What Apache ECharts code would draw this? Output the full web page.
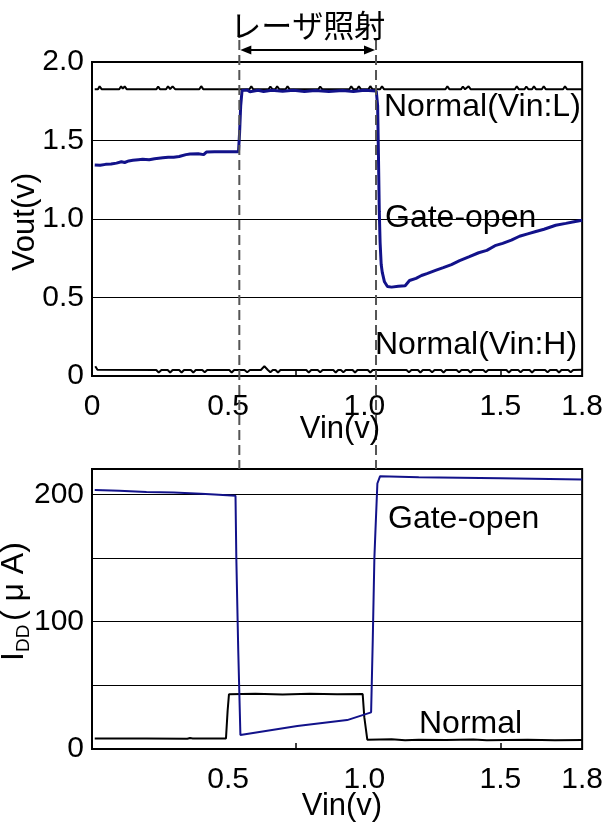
<!DOCTYPE html>
<html><head><meta charset="utf-8">
<script src="https://cdn.jsdelivr.net/npm/echarts@6/dist/echarts.min.js"></script>
<style>html,body{margin:0;padding:0;background:#fff}#c{width:606px;height:822px}</style>
</head><body><div id="c"></div>
<script>
// ---------- data ----------
const vinLabelsTop = [0, 0.5, 1.0, 1.5, 1.8];
const vinLabelsBottom = [0.5, 1.0, 1.5, 1.8];
const vinMinorTicks = [0.75, 1.5];
const iddLabelValues = [0, 100, 200];
const laserVin = [0.541, 1.043];

const normalLowVout = [[0.01,1.826],[0.022,1.826],[0.028,1.845],[0.036,1.826],[0.1,1.826],[0.107,1.845],[0.113,1.83],[0.12,1.845],[0.128,1.826],[0.236,1.826],[0.243,1.844],[0.25,1.826],[0.272,1.826],[0.279,1.845],[0.287,1.828],[0.296,1.845],[0.306,1.826],[0.394,1.826],[0.401,1.846],[0.409,1.826],[0.578,1.826],[0.585,1.845],[0.592,1.826],[0.648,1.826],[0.655,1.844],[0.663,1.826],[0.673,1.826],[0.68,1.845],[0.688,1.826],[0.711,1.826],[0.718,1.845],[0.726,1.826],[0.831,1.826],[0.838,1.844],[0.846,1.826],[0.945,1.826],[0.952,1.845],[0.96,1.826],[0.973,1.826],[0.98,1.845],[0.988,1.826],[1.015,1.826],[1.022,1.846],[1.03,1.826],[1.058,1.826],[1.065,1.845],[1.073,1.826],[1.298,1.826],[1.305,1.845],[1.313,1.826],[1.355,1.826],[1.362,1.844],[1.37,1.826],[1.376,1.826],[1.383,1.845],[1.391,1.826],[1.553,1.826],[1.56,1.845],[1.568,1.826],[1.588,1.826],[1.595,1.844],[1.603,1.826],[1.616,1.826],[1.623,1.845],[1.631,1.826],[1.652,1.826],[1.659,1.845],[1.667,1.826],[1.73,1.826],[1.737,1.845],[1.745,1.826],[1.8,1.826]];

const normalHighVout = [[0.012,0.062],[0.02,0.04],[0.236,0.038],[0.245,0.022],[0.255,0.038],[0.278,0.038],[0.287,0.022],[0.296,0.038],[0.32,0.038],[0.329,0.022],[0.338,0.038],[0.363,0.038],[0.372,0.022],[0.381,0.038],[0.405,0.038],[0.414,0.024],[0.423,0.038],[0.504,0.038],[0.513,0.022],[0.522,0.038],[0.56,0.038],[0.57,0.024],[0.58,0.038],[0.62,0.038],[0.633,0.062],[0.646,0.038],[0.655,0.024],[0.664,0.038],[0.674,0.038],[0.683,0.022],[0.692,0.038],[0.787,0.038],[0.796,0.022],[0.805,0.038],[0.829,0.038],[0.838,0.024],[0.847,0.038],[0.886,0.038],[0.895,0.022],[0.904,0.038],[0.914,0.038],[0.923,0.024],[0.932,0.038],[0.957,0.038],[0.966,0.022],[0.975,0.038],[1.013,0.038],[1.022,0.022],[1.031,0.038],[1.155,0.038],[1.164,0.024],[1.173,0.038],[1.197,0.038],[1.206,0.022],[1.215,0.038],[1.24,0.038],[1.249,0.024],[1.258,0.038],[1.282,0.038],[1.291,0.022],[1.3,0.038],[1.339,0.038],[1.348,0.024],[1.357,0.038],[1.381,0.038],[1.39,0.022],[1.399,0.038],[1.437,0.038],[1.446,0.024],[1.455,0.038],[1.522,0.038],[1.531,0.022],[1.54,0.038],[1.565,0.038],[1.574,0.024],[1.583,0.038],[1.607,0.038],[1.616,0.022],[1.625,0.038],[1.664,0.038],[1.673,0.024],[1.682,0.038],[1.706,0.038],[1.715,0.022],[1.724,0.038],[1.749,0.038],[1.758,0.024],[1.767,0.038],[1.8,0.04]];

const gateOpenVout = [[0.01,1.344],[0.03,1.342],[0.05,1.348],[0.07,1.35],[0.09,1.356],[0.108,1.365],[0.12,1.36],[0.135,1.37],[0.14,1.358],[0.15,1.374],[0.17,1.378],[0.186,1.38],[0.21,1.378],[0.23,1.384],[0.26,1.39],[0.28,1.394],[0.3,1.393],[0.32,1.398],[0.345,1.41],[0.36,1.414],[0.39,1.416],[0.41,1.41],[0.42,1.426],[0.45,1.428],[0.49,1.429],[0.538,1.429],[0.542,1.55],[0.546,1.72],[0.551,1.818],[0.57,1.822],[0.58,1.81],[0.61,1.82],[0.63,1.812],[0.66,1.82],[0.7,1.814],[0.74,1.82],[0.78,1.812],[0.82,1.818],[0.87,1.812],[0.92,1.818],[0.96,1.812],[1.0,1.82],[1.044,1.815],[1.049,1.72],[1.052,1.4],[1.055,1.05],[1.058,0.85],[1.062,0.71],[1.066,0.66],[1.074,0.6],[1.085,0.57],[1.1,0.566],[1.125,0.572],[1.15,0.575],[1.166,0.608],[1.19,0.622],[1.21,0.64],[1.23,0.652],[1.264,0.674],[1.29,0.69],[1.32,0.71],[1.35,0.735],[1.386,0.76],[1.42,0.785],[1.45,0.8],[1.48,0.83],[1.508,0.845],[1.54,0.865],[1.57,0.89],[1.6,0.905],[1.63,0.92],[1.66,0.935],[1.703,0.96],[1.74,0.972],[1.77,0.982],[1.8,0.992]];

const gateOpenIdd = [[0.01,203.5],[0.1,203],[0.2,202],[0.3,201.5],[0.4,200.5],[0.45,200],[0.527,199],[0.53,150],[0.537,78],[0.545,11],[0.754,18],[0.937,22.7],[1.025,28.8],[1.031,85],[1.037,150],[1.041,172],[1.048,208.6],[1.058,214.4],[1.2,213.6],[1.5,212.8],[1.8,211.8]];

const normalIdd = [[0.01,8.3],[0.2,8.3],[0.35,8.0],[0.36,8.6],[0.37,8.3],[0.492,8.3],[0.498,30],[0.503,43],[0.6,43.5],[0.7,42.8],[0.8,43.4],[0.9,43],[0.994,43.2],[1.0,25],[1.011,7.3],[1.1,7.6],[1.15,6.8],[1.2,7.3],[1.3,7.0],[1.4,7.5],[1.45,6.8],[1.6,7.3],[1.7,6.9],[1.8,7.0]];

// ---------- chart ----------
const FONT = '"Liberation Sans", Arial, Helvetica, sans-serif';
const JFONT = '"Noto Sans CJK JP", "Noto Sans CJK SC", sans-serif';
const BLUE = '#12128a';
const fmtV = v => (v === 0 ? '0' : v.toFixed(1));

const chart = echarts.init(document.getElementById('c'), null, {renderer: 'canvas'});

function xAxisFor(grid, labels) {
  return {
    gridIndex: grid, type: 'value', min: 0, max: 1.8,
    axisLine: {show: false}, splitLine: {show: false},
    axisTick: {show: true, inside: true, length: 6, customValues: vinMinorTicks, lineStyle: {color: '#000', width: 1.5}},
    axisLabel: {customValues: labels, formatter: fmtV, fontSize: 30, fontFamily: FONT, color: '#000', margin: 16}
  };
}

chart.setOption({
  animation: false,
  backgroundColor: '#fff',
  grid: [
    {left: 92, top: 62, width: 491, height: 314, show: true, borderColor: '#000', borderWidth: 2, backgroundColor: 'transparent'},
    {left: 92, top: 469, width: 491, height: 280, show: true, borderColor: '#000', borderWidth: 2, backgroundColor: 'transparent'}
  ],
  xAxis: [xAxisFor(0, vinLabelsTop), xAxisFor(1, vinLabelsBottom)],
  yAxis: [
    {gridIndex: 0, type: 'value', min: 0, max: 2, interval: 0.5,
     axisLine: {show: false}, axisTick: {show: false},
     splitLine: {show: true, lineStyle: {color: '#000', width: 1}},
     axisLabel: {formatter: fmtV, fontSize: 30, fontFamily: FONT, color: '#000', margin: 8}},
    {gridIndex: 1, type: 'value', min: 0, max: 220, interval: 50,
     axisLine: {show: false}, axisTick: {show: false},
     splitLine: {show: true, lineStyle: {color: '#000', width: 1}},
     axisLabel: {customValues: iddLabelValues, formatter: v => String(v), fontSize: 30, fontFamily: FONT, color: '#000', margin: 8}}
  ],
  series: [
    {name: 'Normal(Vin:L)', type: 'line', xAxisIndex: 0, yAxisIndex: 0, data: normalLowVout, showSymbol: false, symbol: 'none', lineStyle: {color: '#000', width: 2}},
    {name: 'Normal(Vin:H)', type: 'line', xAxisIndex: 0, yAxisIndex: 0, data: normalHighVout, showSymbol: false, symbol: 'none', lineStyle: {color: '#000', width: 2}},
    {name: 'Gate-open Vout', type: 'line', xAxisIndex: 0, yAxisIndex: 0, data: gateOpenVout, showSymbol: false, symbol: 'none', lineStyle: {color: BLUE, width: 3}},
    {name: 'Normal IDD', type: 'line', xAxisIndex: 1, yAxisIndex: 1, data: normalIdd, showSymbol: false, symbol: 'none', lineStyle: {color: '#000', width: 2}},
    {name: 'Gate-open IDD', type: 'line', xAxisIndex: 1, yAxisIndex: 1, data: gateOpenIdd, showSymbol: false, symbol: 'none', lineStyle: {color: BLUE, width: 2}}
  ]
});

// ---------- annotations ----------
const lx = laserVin.map(v => chart.convertToPixel({xAxisIndex: 0}, v));
const yBotPlotTop = chart.convertToPixel({yAxisIndex: 1}, 220);
const dashTop = 40, arrowY = 50;

function txt(text, x, y, size, align, vAlign, family, extra) {
  return Object.assign({
    type: 'text', x: x, y: y, silent: true, z: 100,
    style: {text: text, fontSize: size, fontFamily: family || FONT, fill: '#000',
      align: align, verticalAlign: vAlign, textAlign: align, textVerticalAlign: vAlign}
  }, extra || {});
}

const graphics = [
  {type: 'line', silent: true, z: 50, shape: {x1: lx[0], y1: dashTop, x2: lx[0], y2: yBotPlotTop}, style: {stroke: '#555', lineWidth: 2, lineDash: [10, 5]}},
  {type: 'line', silent: true, z: 50, shape: {x1: lx[1], y1: dashTop, x2: lx[1], y2: yBotPlotTop}, style: {stroke: '#555', lineWidth: 2, lineDash: [10, 5]}},
  {type: 'line', silent: true, z: 60, shape: {x1: lx[0] + 4, y1: arrowY, x2: lx[1] - 4, y2: arrowY}, style: {stroke: '#000', lineWidth: 2}},
  {type: 'polygon', silent: true, z: 60, shape: {points: [[lx[0] + 1, arrowY], [lx[0] + 12, arrowY - 4.5], [lx[0] + 12, arrowY + 4.5]]}, style: {fill: '#000'}},
  {type: 'polygon', silent: true, z: 60, shape: {points: [[lx[1] - 1, arrowY], [lx[1] - 12, arrowY - 4.5], [lx[1] - 12, arrowY + 4.5]]}, style: {fill: '#000'}},
  txt('レーザ照射', (lx[0] + lx[1]) / 2, 25, 31, 'center', 'middle', JFONT),
  txt('Normal(Vin:L)', 384, 107, 32, 'left', 'middle'),
  txt('Gate-open', 385, 218, 32, 'left', 'middle'),
  txt('Normal(Vin:H)', 375, 345, 32, 'left', 'middle'),
  txt('Gate-open', 388, 519, 32, 'left', 'middle'),
  txt('Normal', 419, 724, 32, 'left', 'middle'),
  txt('Vin(v)', 340, 429, 31, 'center', 'middle'),
  txt('Vin(v)', 342, 806, 31, 'center', 'middle'),
  txt('Vout(v)', 25, 222, 31, 'center', 'middle', FONT, {rotation: Math.PI / 2}),
  {type: 'group', x: 25, y: 600, rotation: Math.PI / 2, silent: true, children: [
    txt('I', -61, -11, 32, 'left', 'middle'),
    txt('DD', -52, -1, 19, 'left', 'middle'),
    txt('( μ A)', -21, -11, 32, 'left', 'middle')
  ]}
];
chart.setOption({graphic: graphics});
</script>
</body></html>
